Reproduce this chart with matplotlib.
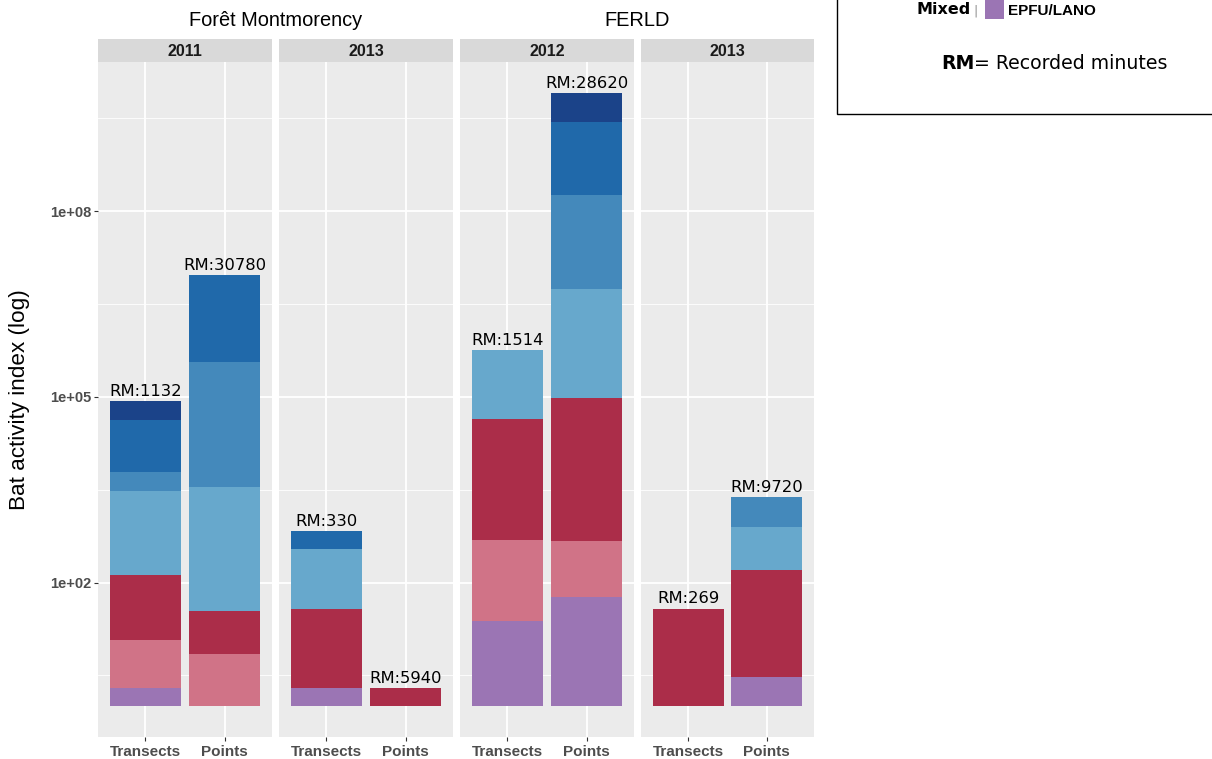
import numpy as np
import matplotlib.pyplot as plt
from matplotlib.patches import Rectangle

# stacking order, bottom to top
layers = ["EPFU/LANO", "red_light", "red_dark", "blue_1", "blue_2", "blue_3", "blue_4"]
layer_colors = ["#9b75b4", "#d07387", "#ab2d49", "#67a8cc", "#4489bb", "#2069aa", "#1b4389"]

sites = ["Forêt Montmorency", "FERLD"]
panel_years = ["2011", "2013", "2012", "2013"]
methods = ["Transects", "Points"]

# activity index per layer, one list per (panel, method); stacked on a log scale
index_2011_fm = {
    "Transects": [2, 6, 11, 23, 2, 7, 2],
    "Points": [0, 7, 5, 98, 105, 26, 0],
}
index_2013_fm = {
    "Transects": [2, 0, 19, 9, 0, 2, 0],
    "Points": [0, 0, 2, 0, 0, 0, 0],
}
index_2012_ferld = {
    "Transects": [24, 20, 92, 13, 0, 0, 0],
    "Points": [59, 8, 205, 57, 33, 15, 3],
}
index_2013_ferld = {
    "Transects": [0, 0, 38, 0, 0, 0, 0],
    "Points": [3, 0, 53, 5, 3, 0, 0],
}
panel_data = [index_2011_fm, index_2013_fm, index_2012_ferld, index_2013_ferld]

# recorded minutes
rm_2011_fm = [1132, 30780]
rm_2013_fm = [330, 5940]
rm_2012_ferld = [1514, 28620]
rm_2013_ferld = [269, 9720]
panel_rm = [rm_2011_fm, rm_2013_fm, rm_2012_ferld, rm_2013_ferld]

W, H = 1212, 759
fig = plt.figure(figsize=(W / 100, H / 100), dpi=100)


def px_box(left, top, right, bottom):
    return [left / W, 1 - bottom / H, (right - left) / W, (bottom - top) / H]


def fx(x):
    return x / W


def fy(y):
    return 1 - y / H


# total height of each stack in decades, for the shared y range
totals = []
for d in panel_data:
    for m in methods:
        vals = [v for v in d[m] if v > 0]
        totals.append(np.sum(np.log10(vals)))
top_log = max(totals)
ylim = (10 ** (-0.05 * top_log), 10 ** (1.05 * top_log))

panel_x = [(98, 272), (279, 453), (460, 634), (641, 814)]
panel_top, panel_bottom = 62, 737
strip_top = 39

tick_color = "#4d4d4d"
axes = []
for i, (x0, x1) in enumerate(panel_x):
    ax = fig.add_axes(px_box(x0, panel_top, x1, panel_bottom))
    ax.set_facecolor("#ebebeb")
    for s in ax.spines.values():
        s.set_visible(False)
    ax.set_yscale("log")
    ax.set_ylim(*ylim)
    ax.set_xlim(-0.6, 1.6)

    ax.set_yticks([1e2, 1e5, 1e8])
    ax.set_yticks([10 ** 0.5, 10 ** 3.5, 10 ** 6.5, 10 ** 9.5], minor=True)
    ax.set_xticks([0, 1])
    ax.grid(True, which="major", color="white", lw=1.3)
    ax.grid(True, which="minor", axis="y", color="white", lw=0.6)
    ax.set_axisbelow(True)
    ax.tick_params(which="minor", length=0)
    ax.tick_params(axis="x", length=3, width=0.8, color="#333333", pad=3)
    ax.set_xticklabels(methods, fontfamily="Liberation Sans", fontweight="bold",
                       fontsize=11, color=tick_color)
    if i == 0:
        ax.set_yticklabels(["1e+02", "1e+05", "1e+08"], fontfamily="Liberation Sans",
                           fontweight="bold", fontsize=10.5, color=tick_color)
        ax.tick_params(axis="y", which="major", length=3, width=0.8,
                       color="#333333", pad=2)
    else:
        ax.tick_params(axis="y", which="major", length=0, labelleft=False)

    d = panel_data[i]
    for j, m in enumerate(methods):
        bottom = 1.0
        for val, col in zip(d[m], layer_colors):
            if val <= 0:
                continue
            top = bottom * val
            ax.bar(j, top - bottom, bottom=bottom, width=0.9, color=col,
                   linewidth=0)
            bottom = top
        ax.annotate(f"RM:{panel_rm[i][j]}", (j, bottom), xytext=(0, 1.5),
                    textcoords="offset points", ha="center", va="bottom",
                    fontsize=11.8, fontfamily="DejaVu Sans", color="black")

    # facet strip
    fig.patches.append(Rectangle((fx(x0), fy(panel_top)), fx(x1) - fx(x0),
                                 fy(strip_top) - fy(panel_top),
                                 transform=fig.transFigure, facecolor="#d9d9d9",
                                 edgecolor="none"))
    fig.text(fx((x0 + x1) / 2), fy(56.5), panel_years[i], ha="center",
             va="baseline", fontfamily="Liberation Sans", fontweight="bold",
             fontsize=11.5, color="#1a1a1a")
    axes.append(ax)

# site titles over each pair of panels
for k, site in enumerate(sites):
    left = panel_x[2 * k][0]
    right = panel_x[2 * k + 1][1]
    fig.text(fx((left + right) / 2), fy(26.5), site, ha="center", va="baseline",
             fontfamily="Liberation Sans", fontsize=14.4, color="black")

fig.text(fx(20), fy((panel_top + panel_bottom) / 2), "Bat activity index (log)",
         rotation=90, ha="center", va="center", fontfamily="Liberation Sans",
         fontsize=16.2, color="black")

# legend panel (upper right)
fig.patches.append(Rectangle((fx(837), fy(114)), fx(W + 20) - fx(837),
                             fy(-20) - fy(114), transform=fig.transFigure,
                             facecolor="white", edgecolor="black", lw=1.0))
fig.text(fx(917), fy(14), "Mixed", ha="left", va="baseline",
         fontfamily="DejaVu Sans", fontweight="bold", fontsize=11.5)
fig.text(fx(975.5), fy(14.5), "|", ha="center", va="baseline",
         fontfamily="DejaVu Sans", fontsize=9, color="#8c8c8c")
fig.patches.append(Rectangle((fx(985), fy(19)), fx(19), fy(0) - fy(19),
                             transform=fig.transFigure,
                             facecolor=layer_colors[0], edgecolor="none"))
fig.text(fx(1008), fy(15), layers[0], ha="left", va="baseline",
         fontfamily="Liberation Sans", fontweight="bold", fontsize=11)

rm_bold = fig.text(fx(941), fy(69), "RM", ha="left", va="baseline",
                   fontfamily="DejaVu Sans", fontweight="bold", fontsize=13.6)
renderer = fig.canvas.get_renderer()
bb = rm_bold.get_window_extent(renderer)
fig.text(bb.x1 / W, fy(69), "= Recorded minutes", ha="left", va="baseline",
         fontfamily="DejaVu Sans", fontsize=13.6)

fig.savefig("out.png", dpi=100)
